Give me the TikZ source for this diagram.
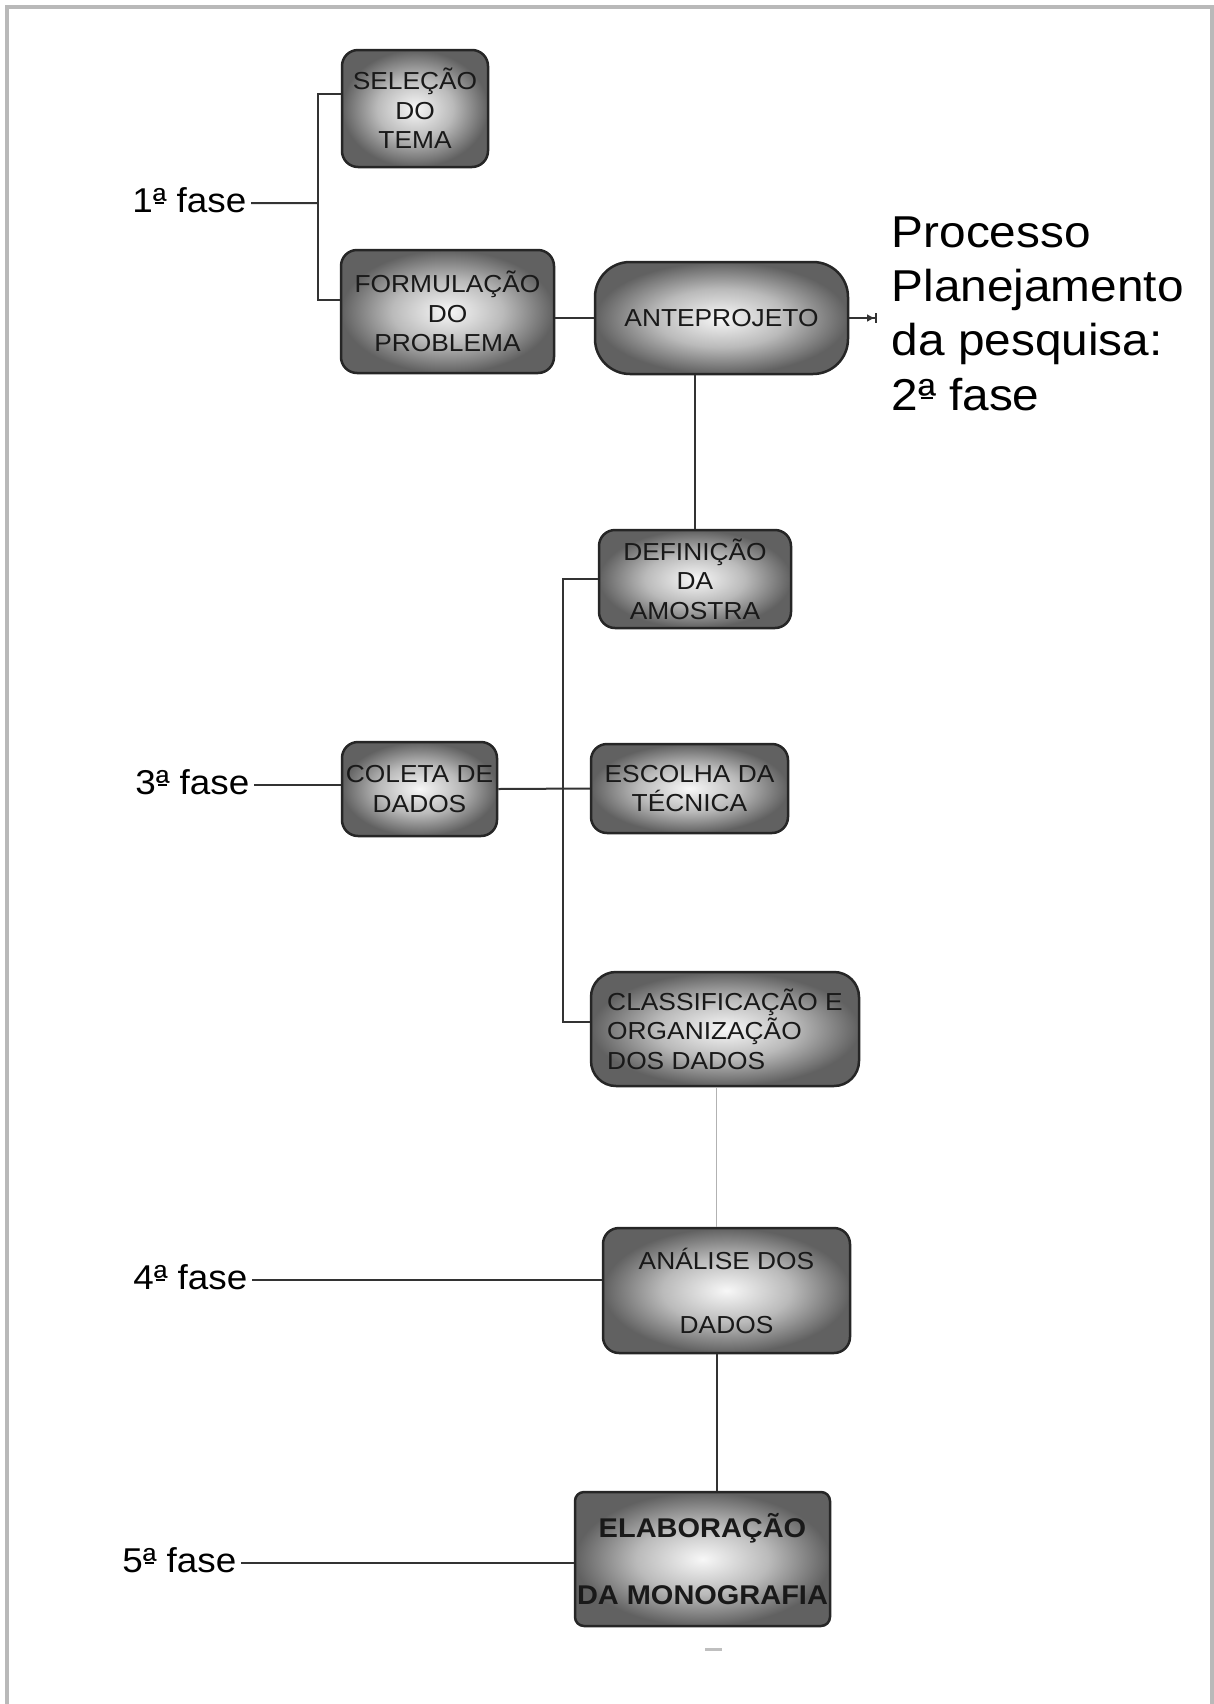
\documentclass[tikz,border=0pt]{standalone}
\usepackage{fontspec}
\setmainfont{Liberation Sans}[FakeStretch=1.07]
\usepackage{tikz}
\usetikzlibrary{arrows.meta}
\pgfdeclareradialshading{boxglow}{\pgfpoint{0bp}{0bp}}{color(0bp)=(black!3); color(13bp)=(black!27); color(25bp)=(black!62); color(50bp)=(black!62)}
% ordinal with the little dash under it
\newcommand{\ordA}{\ooalign{ª\cr\hidewidth\rule[0.24em]{0.28em}{0.055em}\hidewidth\cr}}

\begin{document}
\begin{tikzpicture}[x=0.1mm,y=-0.1mm,
  etapa/.style={draw=black!85,line width=0.25mm,shade,shading=boxglow,rounded corners=1.6mm,
    align=center,inner sep=0pt,text=black!90,font=\fontsize{7pt}{8.4pt}\selectfont},
  fase/.style={anchor=base east,inner sep=0.4mm,font=\fontsize{9.8pt}{12pt}\selectfont},
  liga/.style={line width=0.2mm,black!80}]
  \useasboundingbox (0,0) rectangle (1214,1704);
  \draw[gray!55,line width=0.4mm] (7,1704) -- (7,7) -- (1212,7) -- (1212,1704);

  % etapas
  \node[etapa,minimum width=14.6mm,minimum height=11.7mm] (selecao) at (415,108.5) {SELEÇÃO\\DO\\TEMA};
  \node[etapa,minimum width=21.3mm,minimum height=12.3mm] (formulacao) at (447.5,311.5) {FORMULAÇÃO\\DO\\PROBLEMA};
  \node[etapa,minimum width=25.3mm,minimum height=11.2mm,rounded corners=3.5mm] (anteprojeto) at (721.5,318) {ANTEPROJETO};
  \node[etapa,minimum width=19.2mm,minimum height=9.8mm] (definicao) at (695,579) {DEFINIÇÃO\\DA\\AMOSTRA};
  \node[etapa,minimum width=15.5mm,minimum height=9.4mm] (coleta) at (419.5,789) {COLETA DE\\DADOS};
  \node[etapa,minimum width=19.7mm,minimum height=8.9mm] (escolha) at (689.5,788.5) {ESCOLHA DA\\TÉCNICA};
  \node[etapa,minimum width=26.8mm,minimum height=11.4mm,rounded corners=2.5mm,align=left] (classificacao) at (725,1029) {CLASSIFICAÇÃO E\\ORGANIZAÇÃO\\DOS DADOS};
  \node[etapa,minimum width=24.7mm,minimum height=12.5mm] (analise) at (726.5,1290.5) {ANÁLISE DOS\\[9.8pt]DADOS};
  \node[etapa,minimum width=25.5mm,minimum height=13.4mm,rounded corners=0.9mm,
    font=\fontsize{7.7pt}{9.2pt}\selectfont\bfseries] (elaboracao) at (702.5,1559) {ELABORAÇÃO\\[9.8pt]DA MONOGRAFIA};

  % fases
  \node[fase] (fase1) at (251,212) {1\ordA{} fase};
  \node[fase] (fase3) at (254,794) {3\ordA{} fase};
  \node[fase] (fase4) at (252,1289) {4\ordA{} fase};
  \node[fase] (fase5) at (241,1572) {5\ordA{} fase};
  \node[anchor=base west,align=left,inner sep=0pt,font=\fontsize{12.7pt}{15.4pt}\selectfont] (titulo) at (891,410) {Processo\\Planejamento\\da pesquisa:\\2\ordA{} fase};

  \coordinate (j1) at (318,203);
  \coordinate (j3) at (563,787);
  \coordinate (seta) at (877,318);

  % ligacoes
  \draw[liga] ([yshift=0.9mm]fase1.base east) -- (j1);
  \draw[liga] ([yshift=1.45mm]selecao.west) -| (j1) |- ([yshift=1.15mm]formulacao.west);
  \draw[liga] (anteprojeto.west) -- (anteprojeto.west -| formulacao.east);
  \draw[liga,-{Latex[length=0.8mm,width=0.8mm]Bar[width=1mm]}] (anteprojeto.east) -- (seta);
  \draw[liga] (definicao.north) -- (definicao.north |- anteprojeto.south);
  \draw[liga] ([yshift=0.9mm]fase3.base east) -- ([yshift=0.9mm]fase3.base east -| coleta.west);
  \draw[liga] (coleta.east) -- (escolha.west);
  \draw[liga] (definicao.west) -| (j3) |- ([yshift=0.7mm]classificacao.west);
  \draw[liga,black!30,line width=0.15mm] ([xshift=-1mm]analise.north) -- ([xshift=-1mm]analise.north |- classificacao.south);
  \draw[liga] ([xshift=-1mm]analise.south) -- ([xshift=-1mm]analise.south |- elaboracao.north);
  \draw[liga] ([yshift=0.9mm]fase4.base east) -- ([yshift=0.9mm]fase4.base east -| analise.west);
  \draw[liga] ([yshift=0.9mm]fase5.base east) -- ([yshift=0.9mm]fase5.base east -| elaboracao.west);
  \draw[black!25,line width=0.3mm] (705,1649) -- (722,1649);
\end{tikzpicture}
\end{document}
